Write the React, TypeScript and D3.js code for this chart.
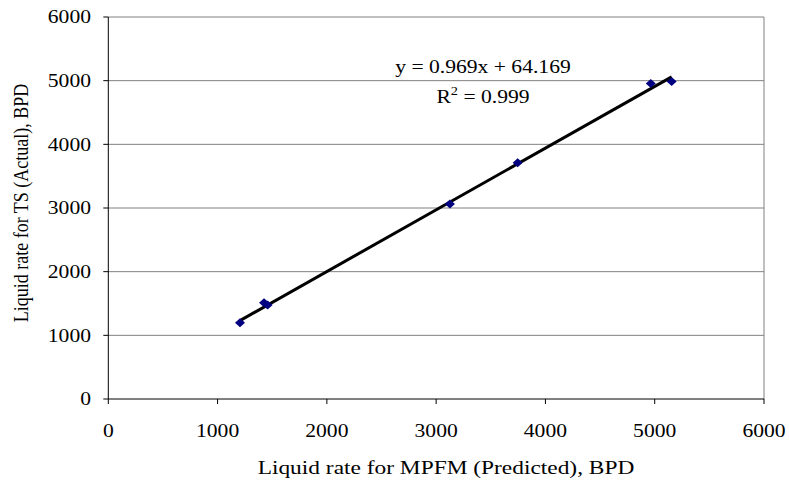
import React from "react";
import * as d3 from "d3";

const predicted = [1205, 1425, 1458, 3126, 3746, 4964, 5155];
const actual = [1198, 1512, 1478, 3061, 3710, 4956, 4985];
const xTicks = [0, 1000, 2000, 3000, 4000, 5000, 6000];
const yTicks = [0, 1000, 2000, 3000, 4000, 5000, 6000];
const slope = 0.969;
const intercept = 64.169;
const equationText = "y = 0.969x + 64.169";
const r2Value = "0.999";
const xTitle = "Liquid rate for MPFM (Predicted), BPD";
const yTitle = "Liquid rate for TS (Actual), BPD";

const W = 789;
const H = 483;
const M = { left: 108.3, right: 764, top: 17, bottom: 399 };
const FONT = "'Liberation Serif', 'Times New Roman', serif";

export default function App() {
  const x = d3.scaleLinear().domain([0, 6000]).range([M.left, M.right]);
  const y = d3.scaleLinear().domain([0, 6000]).range([M.bottom, M.top]);
  const x0 = d3.min(predicted) as number;
  const x1 = d3.max(predicted) as number;
  const linePath = d3.line<number>()
    .x((d) => x(d))
    .y((d) => y(slope * d + intercept))([x0, x1]) as string;
  const diamond = "M0,-4.5L5,0L0,4.5L-5,0Z";
  const sx = 1.2;
  const sxTitle = 1.3;

  return (
    <svg width={W} height={H} style={{ position: "absolute", left: 0, top: 0, background: "#fff" }} fontFamily={FONT}>
      {yTicks.filter((t) => t > 0).map((t) => (
        <line key={"g" + t} x1={M.left} x2={M.right} y1={y(t)} y2={y(t)} stroke="#808080" strokeWidth={1} />
      ))}
      <line x1={M.right} x2={M.right} y1={M.top} y2={M.bottom} stroke="#808080" strokeWidth={1} />
      <line x1={M.left} x2={M.left} y1={M.top} y2={M.bottom} stroke="#000" strokeWidth={1} />
      <line x1={M.left} x2={M.right} y1={M.bottom} y2={M.bottom} stroke="#000" strokeWidth={1} />
      {yTicks.map((t) => (
        <g key={"yt" + t}>
          <line x1={M.left - 5} x2={M.left} y1={y(t)} y2={y(t)} stroke="#000" />
          <text x={91} y={y(t)} dy="0.35em" textAnchor="end" fontSize={18}
            transform={`translate(${91 * (1 - sx)},0) scale(${sx},1)`}>{t}</text>
        </g>
      ))}
      {xTicks.map((t) => (
        <g key={"xt" + t}>
          <line x1={x(t)} x2={x(t)} y1={M.bottom} y2={M.bottom + 5} stroke="#000" />
          <text x={x(t)} y={437} textAnchor="middle" fontSize={18}
            transform={`translate(${x(t) * (1 - sx)},0) scale(${sx},1)`}>{t}</text>
        </g>
      ))}
      <text x={446} y={474} textAnchor="middle" fontSize={18}
        transform={`translate(${446 * (1 - sxTitle)},0) scale(${sxTitle},1)`}>{xTitle}</text>
      <text transform={`translate(28,203) rotate(-90) scale(1,1.15)`}
        textAnchor="middle" fontSize={18}>{yTitle}</text>
      <path d={linePath} stroke="#000" strokeWidth={3} fill="none" />
      {predicted.map((p, i) => (
        <path key={"p" + i} d={diamond} transform={`translate(${x(p)},${y(actual[i])})`} fill="#000080" />
      ))}
      <text x={483} y={73} textAnchor="middle" fontSize={18}
        transform={`translate(${483 * (1 - sx)},0) scale(${sx},1)`}>{equationText}</text>
      <text x={483} y={103} textAnchor="middle" fontSize={18}
        transform={`translate(${483 * (1 - sx)},0) scale(${sx},1)`}>
        R<tspan dy={-8} fontSize={12}>2</tspan><tspan dy={8}> = {r2Value}</tspan>
      </text>
    </svg>
  );
}
